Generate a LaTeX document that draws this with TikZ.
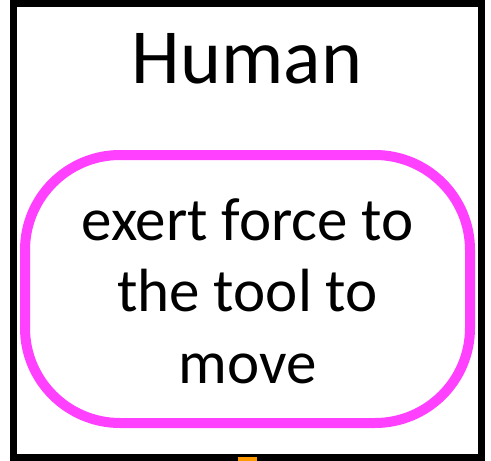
\documentclass[tikz,border=0pt]{standalone}
\usepackage{fontspec}
\setmainfont{Carlito}
\usepackage{tikz}
\usetikzlibrary{positioning}
\usepackage{xcolor}
\definecolor{actpink}{RGB}{255,64,255}
\definecolor{linkorange}{RGB}{255,153,0}

\begin{document}
\begin{tikzpicture}[x=1pt,y=-1pt,
  agentbox/.style={draw=black, line width=7pt, minimum width=467.5pt, minimum height=454pt, inner sep=0pt},
  actbox/.style={draw=actpink, line width=10pt, rounded corners=95pt, minimum width=445pt, minimum height=268pt},
  acttext/.style={align=center, inner sep=0pt, font=\fontsize{61}{71.5}\selectfont},
  titletext/.style={font=\fontsize{78}{90}\selectfont, inner sep=0pt}]
\useasboundingbox (0,0) rectangle (491,461);
\clip (0,0) rectangle (491,461);
\node[agentbox] (human) at (247.25,230.5) {};
\node[titletext, anchor=base] (humantitle) at (247,83) {Human};
\node[actbox] (exert) at (247.5,289) {};
\node[acttext, anchor=base] (exerttext) at (247.5,383) {exert force to\\the tool to\\move};
\coordinate[below=20pt of human.south] (humanout);
\draw[style=thick, linkorange, line width=19pt] ([yshift=4pt]human.south) -- (humanout);
\end{tikzpicture}
\end{document}
